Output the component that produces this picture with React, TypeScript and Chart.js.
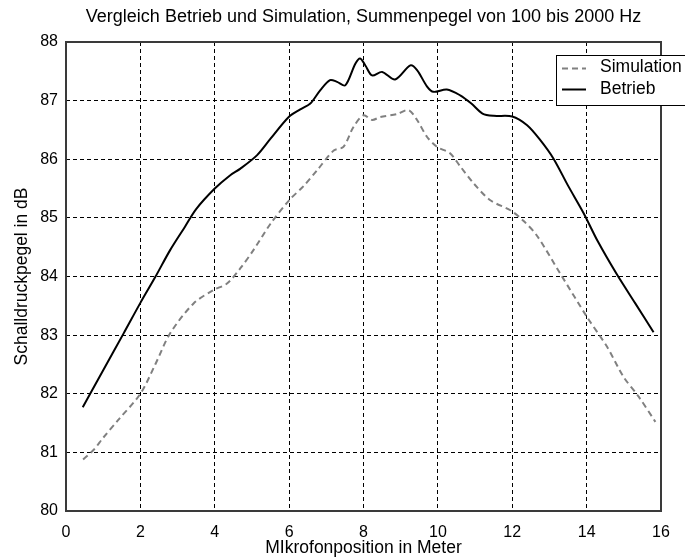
import React, { useEffect, useRef } from "react";
import { Chart, registerables } from "chart.js";

Chart.register(...registerables);

const chartTitle = "Vergleich Betrieb und Simulation, Summenpegel von 100 bis 2000 Hz";
const xAxisLabel = "MIkrofonposition in Meter";
const yAxisLabel = "Schalldruckpegel in dB";
const seriesLabels = ["Simulation", "Betrieb"];

const xMin = 0;
const xMax = 16;
const xStep = 2;
const yMin = 80;
const yMax = 88;
const yStep = 1;

const simX = [0.46, 0.74, 1.0, 1.4, 2.0, 2.4, 2.8, 3.43, 3.97, 4.33, 4.7, 5.04, 5.5, 6.0, 6.4, 6.75, 7.2, 7.46, 7.73, 8.0, 8.23, 8.45, 8.9, 9.21, 9.44, 9.71, 9.98, 10.33, 10.6, 10.96, 11.41, 11.95, 12.3, 12.66, 13.29, 14.01, 14.55, 14.99, 15.4, 15.85];
const simY = [80.88, 81.04, 81.25, 81.55, 82.0, 82.5, 83.03, 83.54, 83.77, 83.88, 84.15, 84.45, 84.9, 85.3, 85.55, 85.81, 86.15, 86.21, 86.55, 86.75, 86.67, 86.72, 86.77, 86.84, 86.67, 86.38, 86.21, 86.1, 85.88, 85.59, 85.3, 85.13, 84.95, 84.7, 84.05, 83.31, 82.8, 82.29, 81.95, 81.52];

const betriebX = [0.45, 0.65, 1.0, 1.55, 2.0, 2.4, 2.8, 3.2, 3.5, 4.0, 4.4, 4.69, 5.14, 5.5, 5.99, 6.3, 6.57, 6.84, 7.1, 7.29, 7.51, 7.78, 7.91, 8.05, 8.23, 8.5, 8.85, 9.26, 9.44, 9.71, 9.88, 10.24, 10.6, 10.9, 11.2, 11.5, 12.0, 12.4, 12.75, 13.11, 13.5, 13.92, 14.3, 14.8, 15.3, 15.8];
const betriebY = [81.77, 82.0, 82.4, 83.03, 83.55, 83.99, 84.45, 84.85, 85.15, 85.5, 85.72, 85.84, 86.07, 86.35, 86.72, 86.85, 86.95, 87.18, 87.35, 87.32, 87.26, 87.63, 87.72, 87.6, 87.43, 87.49, 87.36, 87.6, 87.52, 87.24, 87.15, 87.19, 87.09, 86.95, 86.78, 86.74, 86.73, 86.58, 86.33, 86.01, 85.55, 85.08, 84.6, 84.05, 83.55, 83.05];

const FONT = "'Liberation Sans', Arial, sans-serif";
const simColor = "#808080";
const betriebColor = "#000000";
const simDash = [6, 4];

const toPoints = (xs: number[], ys: number[]) => xs.map((x, i) => ({ x, y: ys[i] }));

const boxPlugin = {
  id: "axesBox",
  beforeDatasetsDraw(chart: any) {
    const { ctx, chartArea: a } = chart;
    ctx.save();
    ctx.strokeStyle = "#3a3a3a";
    ctx.lineWidth = 2;
    ctx.strokeRect(a.left, a.top, a.right - a.left, a.bottom - a.top);
    ctx.restore();
  },
};

const legendPlugin = {
  id: "boxLegend",
  afterDatasetsDraw(chart: any) {
    const { ctx, chartArea: a } = chart;
    const left = a.right - 105;
    const top = a.top + 13;
    const w = 140;
    const h = 50;
    ctx.save();
    ctx.fillStyle = "#ffffff";
    ctx.fillRect(left, top, w, h);
    ctx.strokeStyle = "#000000";
    ctx.lineWidth = 1;
    ctx.strokeRect(Math.round(left) + 0.5, Math.round(top) + 0.5, w, h);
    const rows = [top + 12.5, top + 34];
    const styles = [
      { color: simColor, dash: simDash },
      { color: betriebColor, dash: [] as number[] },
    ];
    chart.data.datasets.forEach((ds: any, i: number) => {
      const y = Math.round(rows[i]) + 0.5;
      ctx.beginPath();
      ctx.setLineDash(styles[i].dash);
      ctx.strokeStyle = styles[i].color;
      ctx.lineWidth = 2;
      ctx.moveTo(left + 6, y);
      ctx.lineTo(left + 30, y);
      ctx.stroke();
      ctx.setLineDash([]);
      ctx.fillStyle = "#000000";
      ctx.font = `17.5px ${FONT}`;
      ctx.textBaseline = "middle";
      ctx.textAlign = "left";
      ctx.fillText(ds.label, left + 44, rows[i]);
    });
    ctx.restore();
  },
};

export default function App() {
  const canvasRef = useRef<HTMLCanvasElement | null>(null);

  useEffect(() => {
    const canvas = canvasRef.current;
    if (!canvas) return;
    const chart = new Chart(canvas, {
      type: "line",
      data: {
        datasets: [
          {
            label: seriesLabels[0],
            data: toPoints(simX, simY),
            borderColor: simColor,
            borderWidth: 2,
            borderDash: simDash,
            pointRadius: 0,
            tension: 0.3,
            fill: false,
          },
          {
            label: seriesLabels[1],
            data: toPoints(betriebX, betriebY),
            borderColor: betriebColor,
            borderWidth: 2,
            pointRadius: 0,
            tension: 0.3,
            fill: false,
          },
        ],
      },
      options: {
        responsive: false,
        animation: false,
        layout: { padding: { left: 0, right: 24, top: 0, bottom: 0 } },
        plugins: {
          legend: { display: false },
          tooltip: { enabled: false },
          title: {
            display: true,
            text: chartTitle,
            fullSize: false,
            color: "#000",
            font: { family: FONT, size: 18, weight: "normal" },
            lineHeight: 1.2,
            padding: { top: 6, bottom: 14.4 },
          },
        },
        scales: {
          x: {
            type: "linear",
            min: xMin,
            max: xMax,
            ticks: {
              stepSize: xStep,
              color: "#000",
              padding: 12,
              maxRotation: 0,
              font: { family: FONT, size: 16 },
            },
            grid: { color: "#000", lineWidth: 1, drawTicks: false },
            border: { display: false, dash: [4, 3] },
            title: {
              display: true,
              text: xAxisLabel,
              color: "#000",
              font: { family: FONT, size: 17.5 },
              padding: { top: 0, bottom: 0 },
            },
            afterFit: (scale: any) => {
              scale.height = 48;
              scale.paddingLeft = 0;
              scale.paddingRight = 0;
            },
          },
          y: {
            type: "linear",
            min: yMin,
            max: yMax,
            ticks: {
              stepSize: yStep,
              color: "#000",
              padding: 8,
              font: { family: FONT, size: 16 },
            },
            grid: { color: "#000", lineWidth: 1, drawTicks: false },
            border: { display: false, dash: [4, 3] },
            title: {
              display: true,
              text: yAxisLabel,
              color: "#000",
              font: { family: FONT, size: 17.5 },
              padding: { top: 11.5, bottom: 0 },
            },
            afterFit: (scale: any) => {
              scale.width = 66;
              scale.paddingTop = 0;
              scale.paddingBottom = 0;
            },
          },
        },
      },
      plugins: [boxPlugin, legendPlugin],
    } as any);
    return () => chart.destroy();
  }, []);

  return (
    <div style={{ position: "absolute", left: 0, top: 0, width: 685, height: 559, background: "#fff" }}>
      <canvas ref={canvasRef} width={685} height={559} />
    </div>
  );
}
